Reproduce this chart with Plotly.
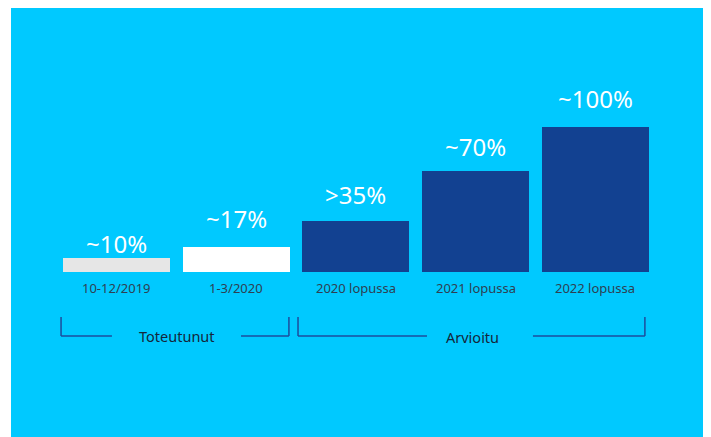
import plotly.graph_objects as go

categories = ["10-12/2019", "1-3/2020", "2020 lopussa", "2021 lopussa", "2022 lopussa"]
values = [10, 17, 35, 70, 100]
value_labels = ["~10%", "~17%", ">35%", "~70%", "~100%"]
bar_colors = ["#E6E6E6", "#FFFFFF", "#124191", "#124191", "#124191"]
group_labels = ["Toteutunut", "Arvioitu"]

FONT = "Noto Sans"
CYAN = "#00C9FF"
LINE = "#1D4C9C"

# label offsets above bar tops (pixels), as drawn in the original
label_shift = [-4, 10, 8, 6, 10]

x = list(range(len(categories)))

fig = go.Figure(go.Bar(
    x=x, y=values, marker=dict(color=bar_colors, line=dict(width=0)),
    width=0.894, hoverinfo="skip",
))

ann = []
for i, (v, t) in enumerate(zip(values, value_labels)):
    ann.append(dict(x=i, y=v, text=t, showarrow=False, yanchor="bottom", yshift=label_shift[i],
                    font=dict(family=FONT, size=24, color="white")))
    ann.append(dict(x=i, y=0, text=categories[i], showarrow=False, yanchor="top", yshift=-5,
                    font=dict(family=FONT, size=13, color="#2E3F52")))

ann.append(dict(x=0.505, y=-44.3, text=group_labels[0], showarrow=False,
                font=dict(family=FONT, size=14.5, color="#15263A")))
ann.append(dict(x=2.977, y=-45.0, text=group_labels[1], showarrow=False,
                font=dict(family=FONT, size=14.5, color="#15263A")))

shapes = []
def seg(x0, y0, x1, y1):
    shapes.append(dict(type="line", xref="x", yref="y", x0=x0, y0=y0, x1=x1, y1=y1,
                       line=dict(color=LINE, width=1.5)))

top, bot = -31.0, -44.1
# Toteutunut bracket
seg(-0.463, top, -0.463, bot)
seg(-0.463, bot, -0.038, bot)
seg(1.040, bot, 1.440, bot)
seg(1.440, bot, 1.440, top)
# Arvioitu bracket
seg(1.516, top, 1.516, bot)
seg(1.516, bot, 2.593, bot)
seg(3.478, bot, 4.413, bot)
seg(4.413, bot, 4.413, top)

fig.update_layout(
    width=703, height=429,
    margin=dict(l=3, r=0, t=0, b=0),
    paper_bgcolor="white", plot_bgcolor=CYAN,
    showlegend=False,
    xaxis=dict(range=[-0.881, 4.965], visible=False, fixedrange=True),
    yaxis=dict(range=[-113.79, 182.07], visible=False, fixedrange=True),
    annotations=ann, shapes=shapes,
    bargap=0,
)

fig.write_html("out.html")
